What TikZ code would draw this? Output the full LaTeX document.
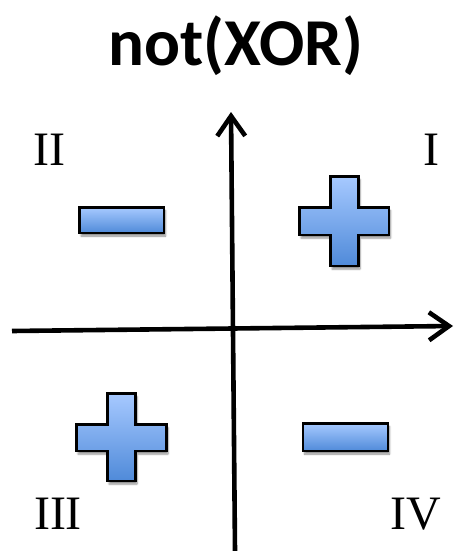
\documentclass[tikz,border=0pt]{standalone}
\usepackage{fontspec}
\setmainfont{Liberation Serif}
\newfontfamily\titlefont{Carlito}
\usetikzlibrary{arrows.meta,shadows.blur}
\definecolor{boxtop}{HTML}{A6C9FF}
\definecolor{boxbot}{HTML}{4F8AD9}
\tikzset{
  sign/.style={draw=black, line width=2.6pt, line join=miter, top color=boxtop, bottom color=boxbot,
    blur shadow={shadow xshift=1.5pt, shadow yshift=-3pt, shadow blur steps=6, shadow opacity=45}},
  axis/.style={line width=4.6pt, -{Straight Barb[length=20pt,width=28pt,line width=4.6pt]}},
  numeral/.style={font=\fontsize{48}{48}\selectfont, anchor=base},
  title/.style={font=\titlefont\bfseries\fontsize{67}{67}\selectfont, anchor=base}
}
\begin{document}
\begin{tikzpicture}[x=1pt,y=-1pt]
\useasboundingbox (0,0) rectangle (455,551);
\node[title] (t) at (236,66) {not(XOR)};
% axes
\coordinate (xl) at (12,331);
\coordinate (xr) at (453,326);
\coordinate (yb) at (235,551);
\coordinate (yt) at (231,112);
\draw[axis] (xl) -- (xr);
\draw[axis] (yb) -- (yt);
% numerals
\node[numeral] (n1) at (431,165) {I};
\node[numeral] (n2) at (49,165) {II};
\node[numeral] (n3) at (58,529) {III};
\node[numeral] (n4) at (416,529) {IV};
% minus signs
\path[sign] (79.5,207.5) rectangle (164,233);
\path[sign] (303,423.5) rectangle (388,451);
% plus signs
\path[sign] (330.5,176.5) -- (358.5,176.5) -- (358.5,207.5) -- (389,207.5) -- (389,235) -- (358.5,235) -- (358.5,266) -- (330.5,266) -- (330.5,235) -- (299.5,235) -- (299.5,207.5) -- (330.5,207.5) -- cycle;
\path[sign] (107.5,393.5) -- (135.5,393.5) -- (135.5,424.5) -- (166.5,424.5) -- (166.5,451) -- (135.5,451) -- (135.5,481) -- (107.5,481) -- (107.5,451) -- (76.5,451) -- (76.5,424.5) -- (107.5,424.5) -- cycle;
\end{tikzpicture}
\end{document}
